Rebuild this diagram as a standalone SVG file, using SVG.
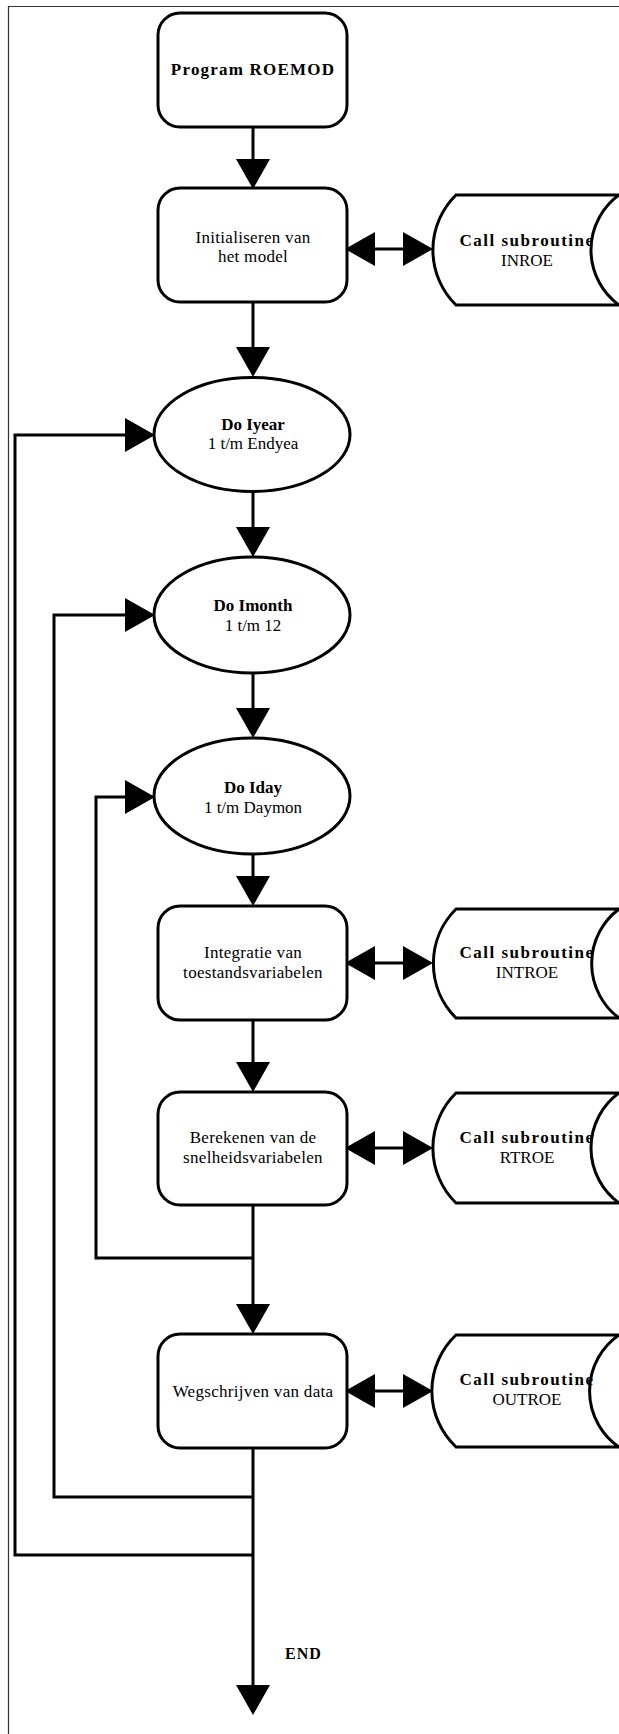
<svg xmlns="http://www.w3.org/2000/svg" width="619" height="1734" viewBox="0 0 619 1734">
<style>
.box{fill:#fff;stroke:#000;stroke-width:3}
.wire{fill:none;stroke:#000;stroke-width:3}
.to{marker-end:url(#head)}
.both{marker-start:url(#head);marker-end:url(#head)}
.frame{fill:none;stroke:#333;stroke-width:1.2}
text{font-family:"Liberation Serif","Times New Roman",serif;fill:#000;text-anchor:middle}
.t{font-size:17px;letter-spacing:0.3px}
.n{font-size:17px}
.b{font-size:17px;font-weight:bold}
.sub{font-size:17px;font-weight:bold;letter-spacing:1.5px}
.title{font-size:17px;font-weight:bold;letter-spacing:1.2px}
</style>
<defs>
<!-- solid triangular arrowhead, tip sits 8px past the path end -->
<marker id="head" markerUnits="userSpaceOnUse" markerWidth="30" markerHeight="34" viewBox="0 0 30 34" refX="22" refY="17" orient="auto-start-reverse">
<path d="M0,0 L30,17 L0,34 Z" fill="#000"/>
</marker>
</defs>
<rect width="619" height="1734" fill="#fff"/>
<!-- page frame -->
<path class="frame" d="M8.5,1734 V6.5 H619"/>

<g id="connectors">
<!-- main flow -->
<path class="wire to" d="M253,127 V181"/>
<path class="wire to" d="M253,302 V369"/>
<path class="wire to" d="M253,492 V549"/>
<path class="wire to" d="M253,673 V730"/>
<path class="wire to" d="M253,854 V898"/>
<path class="wire to" d="M253,1020 V1084"/>
<path class="wire to" d="M253,1205 V1326"/>
<path class="wire to" d="M253,1448 V1707"/>
<!-- loop returns -->
<path class="wire to" d="M253,1555 H15 V435 H147"/>
<path class="wire to" d="M253,1497 H54 V615 H147"/>
<path class="wire to" d="M253,1258 H96 V797 H147"/>
<!-- subroutine calls -->
<path class="wire both" d="M353,249 H425"/>
<path class="wire both" d="M353,963 H425"/>
<path class="wire both" d="M353,1148 H425"/>
<path class="wire both" d="M353,1391 H425"/>
</g>

<g id="program">
<rect class="box" x="158" y="13" width="189" height="114" rx="22"/>
<text class="title" x="253" y="75">Program ROEMOD</text>
</g>

<g id="init">
<rect class="box" x="158" y="188" width="189" height="114" rx="22"/>
<text class="t" x="253" y="243">Initialiseren van</text>
<text class="t" x="253" y="262">het model</text>
</g>

<g id="inroe">
<text class="sub" x="527" y="246">Call subroutine</text>
<text class="n" x="527" y="266">INROE</text>
<path class="wire" d="M456,195 H619 A68 68 0 0 0 619,305 H456 A77 77 0 0 1 456,195 Z"/>
</g>

<g id="loop-year">
<ellipse class="box" cx="252" cy="434.5" rx="98" ry="57"/>
<text class="b" x="253" y="430">Do Iyear</text>
<text class="n" x="253" y="449">1 t/m Endyea</text>
</g>

<g id="loop-month">
<ellipse class="box" cx="252" cy="615" rx="98" ry="58"/>
<text class="b" x="253" y="611">Do Imonth</text>
<text class="n" x="253" y="631">1 t/m 12</text>
</g>

<g id="loop-day">
<ellipse class="box" cx="252" cy="796" rx="98" ry="58"/>
<text class="b" x="253" y="793">Do Iday</text>
<text class="n" x="253" y="813">1 t/m Daymon</text>
</g>

<g id="integrate">
<rect class="box" x="158" y="906" width="189" height="114" rx="22"/>
<text class="t" x="253" y="958">Integratie van</text>
<text class="t" x="253" y="978">toestandsvariabelen</text>
</g>

<g id="introe">
<text class="sub" x="527" y="958">Call subroutine</text>
<text class="n" x="527" y="978">INTROE</text>
<path class="wire" d="M456,909 H619 A68 68 0 0 0 619,1018 H456 A77 77 0 0 1 456,909 Z"/>
</g>

<g id="rates">
<rect class="box" x="158" y="1092" width="189" height="113" rx="22"/>
<text class="t" x="253" y="1143">Berekenen van de</text>
<text class="t" x="253" y="1163">snelheidsvariabelen</text>
</g>

<g id="rtroe">
<text class="sub" x="527" y="1143">Call subroutine</text>
<text class="n" x="527" y="1163">RTROE</text>
<path class="wire" d="M456,1093 H619 A68 68 0 0 0 619,1203 H456 A77 77 0 0 1 456,1093 Z"/>
</g>

<g id="output">
<rect class="box" x="158" y="1334" width="189" height="114" rx="22"/>
<text class="t" x="253" y="1397">Wegschrijven van data</text>
</g>

<g id="outroe">
<text class="sub" x="527" y="1385">Call subroutine</text>
<text class="n" x="527" y="1405">OUTROE</text>
<path class="wire" d="M456,1335 H619 A68 68 0 0 0 619,1447 H456 A77 77 0 0 1 456,1335 Z"/>
</g>

<g id="end">
<text x="285" y="1659" style="font-size:16px;font-weight:bold;letter-spacing:1px;text-anchor:start">END</text>
</g>
</svg>
